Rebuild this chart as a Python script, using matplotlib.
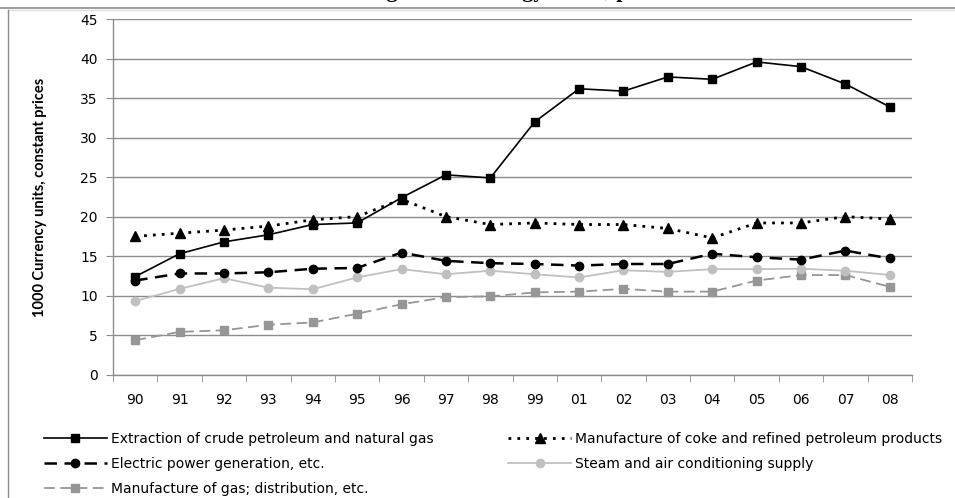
import matplotlib
matplotlib.use("Agg")
import matplotlib.pyplot as plt
from matplotlib.lines import Line2D
import numpy as np

years = ["90", "91", "92", "93", "94", "95", "96", "97", "98", "99",
         "01", "02", "03", "04", "05", "06", "07", "08"]

extraction = [12.4, 15.3, 16.8, 17.7, 19.0, 19.2, 22.4, 25.3, 24.9, 32.0,
              36.2, 35.9, 37.7, 37.4, 39.6, 39.0, 36.8, 33.9]
coke = [17.5, 17.9, 18.3, 18.8, 19.6, 20.0, 22.2, 20.0, 19.0, 19.2,
        19.0, 19.0, 18.5, 17.3, 19.2, 19.2, 20.0, 19.7]
electric = [11.9, 12.8, 12.8, 12.95, 13.4, 13.5, 15.45, 14.4, 14.1, 14.0,
            13.8, 14.0, 14.0, 15.3, 14.85, 14.55, 15.7, 14.7]
steam = [9.3, 10.85, 12.2, 11.0, 10.8, 12.3, 13.35, 12.7, 13.15, 12.7,
         12.3, 13.2, 13.0, 13.35, 13.35, 13.4, 13.15, 12.6]
gas = [4.35, 5.4, 5.6, 6.3, 6.6, 7.7, 8.9, 9.8, 9.9, 10.4,
       10.5, 10.85, 10.5, 10.5, 11.9, 12.6, 12.6, 11.1]

labels = ["Extraction of crude petroleum and natural gas",
          "Manufacture of coke and refined petroleum products",
          "Electric power generation, etc.",
          "Steam and air conditioning supply",
          "Manufacture of gas; distribution, etc."]

yticks = [0, 5, 10, 15, 20, 25, 30, 35, 40, 45]

title = "Labour costs in mining and the energy sector, per hour worked"

plt.rcParams['font.family'] = ['DejaVu Sans']

fig = plt.figure(figsize=(9.55, 4.98), dpi=100)
ax = fig.add_axes([113/955, 1 - 374.5/498, (912-113)/955, (374.5-19.3)/498])

x = np.arange(len(years))
grid_c = '#8c8c8c'

l1, = ax.plot(x, extraction, color='black', lw=1.2, ls='-', marker='s', ms=6,
              label=labels[0])
l2, = ax.plot(x, coke, color='black', lw=2.0, ls=(0, (1, 2.2)), marker='^', ms=7,
              label=labels[1])
l3, = ax.plot(x, electric, color='black', lw=1.8, ls=(0, (5, 3)), marker='o', ms=6,
              label=labels[2])
l4, = ax.plot(x, steam, color='#c0c0c0', lw=1.3, ls='-', marker='o', ms=6,
              label=labels[3])
l5, = ax.plot(x, gas, color='#969696', lw=1.3, ls=(0, (6, 3)), marker='s', ms=6,
              label=labels[4])

for z, ln in zip([5, 4, 3, 2, 1], [l1, l2, l3, l4, l5]):
    ln.set_zorder(z + 2)

ax.set_xlim(-0.5, len(years) - 0.5)
ax.set_ylim(0, 45)
ax.set_yticks(yticks)
ax.set_yticklabels([str(v) for v in yticks], fontsize=10)
ax.set_xticks(x)
ax.set_xticklabels(years, fontsize=10)
ax.tick_params(axis='x', length=0, pad=13)
ax.set_xticks(np.arange(-0.5, len(years), 1.0), minor=True)
ax.tick_params(axis='x', which='minor', length=5, color=grid_c, direction='out')
ax.tick_params(axis='y', length=5, color=grid_c, direction='out', pad=6)
ax.yaxis.grid(True, color=grid_c, lw=1.0)
ax.set_axisbelow(True)
for s in ['top', 'right']:
    ax.spines[s].set_visible(False)
for s in ['left', 'bottom']:
    ax.spines[s].set_color(grid_c)
    ax.spines[s].set_linewidth(1.0)

ax.set_ylabel("1000 Currency units, constant prices", fontsize=10.5, fontweight='bold',
              labelpad=24, family=['Lato', 'DejaVu Sans'])

# legend
handles = [l1, l3, l5, l2, l4]
leg = fig.legend(handles=handles, labels=[h.get_label() for h in handles],
                 loc='upper left', bbox_to_anchor=(44/955, 1 - 432/498),
                 ncol=2, frameon=False, fontsize=10, handlelength=4.5,
                 handletextpad=0.3, labelspacing=0.78, columnspacing=5.4,
                 numpoints=1, borderaxespad=0, borderpad=0)

# frame lines of chart area
fig.add_artist(Line2D([0, 1], [1 - 8/498, 1 - 8/498], transform=fig.transFigure,
                      color='#8c8c8c', lw=1.2))
fig.add_artist(Line2D([8/955, 1], [1 - 10/498, 1 - 10/498], transform=fig.transFigure,
                      color='#dddddd', lw=1.0))
fig.add_artist(Line2D([8/955, 8/955], [0, 1 - 10/498], transform=fig.transFigure,
                      color='#8c8c8c', lw=1.0))

# title, cut off at the top edge as in the reference
fig.text(0.50, 1 + 3/498, title,
         ha='center', va='baseline', fontsize=16, fontweight='bold',
         family=['Liberation Serif', 'DejaVu Serif'])

fig.savefig("out.png", dpi=100)
